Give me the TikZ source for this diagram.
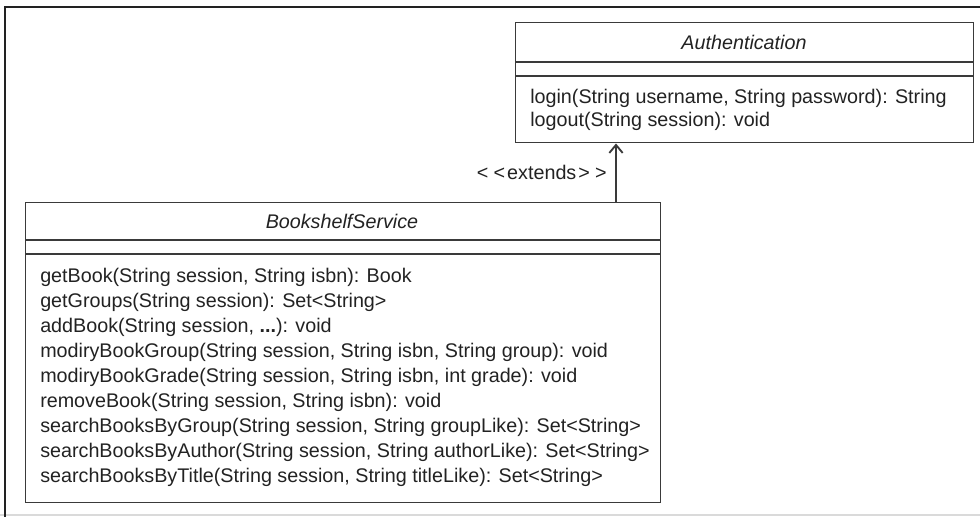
\documentclass[tikz,border=0pt]{standalone}
\usepackage{fontspec}
\setmainfont{Liberation Sans}[Ligatures=TeXOff]
\usetikzlibrary{arrows.meta}
\definecolor{ink}{HTML}{222222}
\definecolor{edge}{HTML}{3A3A3A}
\definecolor{faint}{HTML}{DADADA}
\tikzset{
  classbox/.style={draw=edge, line width=1.1pt, inner sep=0pt, anchor=north west},
  divider/.style={draw=edge, line width=1.1pt},
  member/.style={anchor=west, inner sep=0pt, text=ink, font=\fontsize{14.8}{18}\selectfont},
  classname/.style={inner sep=0pt, text=ink, font=\fontsize{14.8}{18}\selectfont\itshape},
  frame/.style={draw=ink, line width=2pt},
  extendsarrow/.style={draw=edge, line width=1.1pt, -{Straight Barb[length=6pt,width=10pt,line width=1.4pt]}},
}
\begin{document}
\begin{tikzpicture}[x=0.75pt,y=-0.75pt]
  \useasboundingbox (0,0) rectangle (980,517);
  % outer frame
  \coordinate (ftl) at (5,7);
  \coordinate (ftr) at (980,7);
  \coordinate (fbl) at (5,517);
  \coordinate (fbr) at (980,515);
  \draw[faint, line width=0.9pt] (0,515) -- (fbr);
  \draw[frame] (ftr) -- (ftl) -- (fbl);

  % Authentication class
  \node[classbox, minimum width=458*0.75pt, minimum height=120*0.75pt] (auth) at (515,22) {};
  \coordinate (authd1) at (515,62);
  \coordinate (authd2) at (515,76);
  \draw[divider] (authd1) -- (authd1 -| auth.east);
  \draw[divider] (authd2) -- (authd2 -| auth.east);
  \node[classname] (authname) at (744,42) {Authentication};
  \node[member] (login) at (530,98) {login(String username, String password): String};
  \node[member] (logout) at (530,121) {logout(String session): void};

  % BookshelfService class
  \node[classbox, minimum width=635*0.75pt, minimum height=300*0.75pt] (bss) at (25,202) {};
  \coordinate (bssd1) at (25,240);
  \coordinate (bssd2) at (25,254);
  \draw[divider] (bssd1) -- (bssd1 -| bss.east);
  \draw[divider] (bssd2) -- (bssd2 -| bss.east);
  \node[classname] (bssname) at (342,221) {BookshelfService};
  \node[member] (m1) at (40,277) {getBook(String session, String isbn): Book};
  \node[member] (m2) at (40,302) {getGroups(String session): Set<String>};
  \node[member] (m3) at (40,327) {addBook(String session, \textbf{...}): void};
  \node[member] (m4) at (40,352) {modiryBookGroup(String session, String isbn, String group): void};
  \node[member] (m5) at (40,377) {modiryBookGrade(String session, String isbn, int grade): void};
  \node[member] (m6) at (40,402) {removeBook(String session, String isbn): void};
  \node[member] (m7) at (40,427) {searchBooksByGroup(String session, String groupLike): Set<String>};
  \node[member] (m8) at (40,452) {searchBooksByAuthor(String session, String authorLike): Set<String>};
  \node[member] (m9) at (40,477) {searchBooksByTitle(String session, String titleLike): Set<String>};

  % generalisation link
  \coordinate (linkx) at (616,0);
  \draw[extendsarrow] (bss.north -| linkx) -- (auth.south -| linkx);
  \node[member, anchor=east] (ext) at (607,172)
    {<\kern4pt<\kern1.5pt extends\kern1.5pt>\kern4pt>};
\end{tikzpicture}
\end{document}
